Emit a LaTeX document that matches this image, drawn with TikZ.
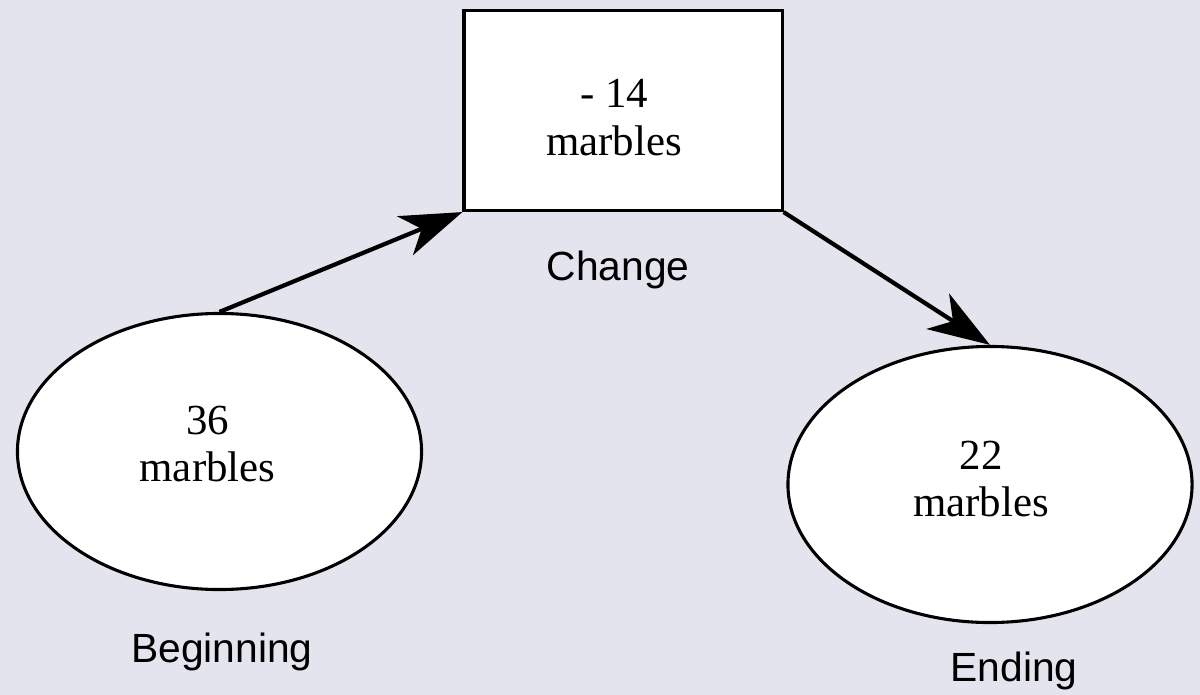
\documentclass[tikz,border=0pt]{standalone}
\usepackage{fontspec}
\setmainfont{Liberation Serif}
\newfontfamily\lblfont{Liberation Sans}
\usetikzlibrary{shapes.geometric,arrows.meta}
\definecolor{bgcol}{RGB}{228,228,238}
\tikzset{
  st/.style={ellipse, draw=black, fill=white, line width=2.2pt, minimum width=10.1cm, minimum height=6.9cm},
  ch/.style={rectangle, draw=black, fill=white, line width=2.2pt, minimum width=7.95cm, minimum height=5cm},
  tx/.style={align=center, inner sep=0pt, font=\fontsize{30.5}{33.5}\selectfont},
  lb/.style={anchor=base, font=\lblfont\fontsize{29}{34}\selectfont},
  ar/.style={line width=3pt, -{Stealth[length=1.55cm, width=1.05cm, inset=0.45cm]}}
}

\begin{document}
\begin{tikzpicture}[x=0.025cm, y=-0.025cm]
	\fill[bgcol] (0,0) rectangle (1200,695);
	\useasboundingbox (0,0) rectangle (1200,695);

	\node[st] (begin) at (219.5,451.5) {};
	\node[ch] (change) at (623,110.5) {};
	\node[st] (ending) at (990,484.5) {};

	% the numbers sit a bit off the shape centres
	\node[tx] (begintxt) at (207.5,444) {36\\marbles};
	\node[tx] (changetxt) at (614,117.5) {- 14\\marbles};
	\node[tx] (endingtxt) at (981,479) {22\\marbles};

	\node[lb] (beginlbl) at (222,662) {Beginning};
	\node[lb] (changelbl) at (618,280) {Change};
	\node[lb] (endinglbl) at (1014,681) {Ending};
	%
	\draw[ar] (begin.north) -- (change.south west);
	\draw[ar] (change.south east) -- (ending.north);
\end{tikzpicture}
\end{document}
